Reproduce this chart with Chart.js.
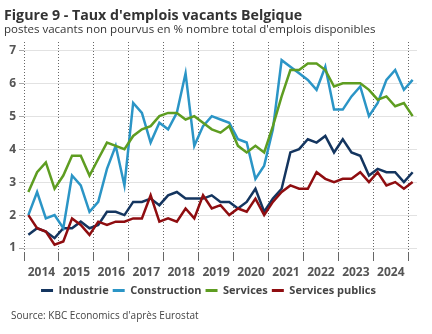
<!DOCTYPE html>
<html>
<head>
<meta charset="utf-8">
<script src="https://cdn.jsdelivr.net/npm/chart.js@4.4.1/dist/chart.umd.min.js"></script>
<style>
  html, body { margin: 0; padding: 0; background: #fff; }
  #wrap { position: relative; width: 432px; height: 334px; font-family: "Open Sans", sans-serif; color: #333; }
  #wrap canvas { position: absolute; left: 0; top: 0; }
  .txt { position: absolute; white-space: nowrap; }
  #title { left: 4px; top: 5px; font-size: 14.2px; font-weight: bold; }
  #subtitle { left: 4px; top: 21px; font-size: 11.5px; }
  #source { left: 11px; top: 308px; font-size: 10px; color: #444; }
</style>
</head>
<body>
<div id="wrap">
  <canvas id="vacancies" width="432" height="334"></canvas>
  <div class="txt" id="title">Figure 9 - Taux d'emplois vacants Belgique</div>
  <div class="txt" id="subtitle">postes vacants non pourvus en % nombre total d'emplois disponibles</div>
  <div class="txt" id="source">Source: KBC Economics d'après Eurostat</div>
</div>
<script>
  "use strict";

  var quarters = [
    "2014T1", "2014T2", "2014T3", "2014T4",
    "2015T1", "2015T2", "2015T3", "2015T4",
    "2016T1", "2016T2", "2016T3", "2016T4",
    "2017T1", "2017T2", "2017T3", "2017T4",
    "2018T1", "2018T2", "2018T3", "2018T4",
    "2019T1", "2019T2", "2019T3", "2019T4",
    "2020T1", "2020T2", "2020T3", "2020T4",
    "2021T1", "2021T2", "2021T3", "2021T4",
    "2022T1", "2022T2", "2022T3", "2022T4",
    "2023T1", "2023T2", "2023T3", "2023T4",
    "2024T1", "2024T2", "2024T3", "2024T4",
    "2025T1"
  ];

  var industrie = [
    1.4, 1.6, 1.5, 1.3, 1.6, 1.6, 1.8, 1.6, 1.7, 2.1, 2.1, 2.0,
    2.4, 2.4, 2.5, 2.3, 2.6, 2.7, 2.5, 2.5, 2.5, 2.6, 2.4, 2.4,
    2.2, 2.4, 2.8, 2.1, 2.5, 2.8, 3.9, 4.0, 4.3, 4.2, 4.4, 3.9,
    4.3, 3.9, 3.8, 3.2, 3.4, 3.3, 3.3, 3.0, 3.3
  ];
  var construction = [
    2.0, 2.7, 1.9, 2.0, 1.6, 3.2, 2.9, 2.1, 2.4, 3.4, 4.1, 2.9,
    5.4, 5.1, 4.2, 4.8, 4.6, 5.1, 6.3, 4.1, 4.7, 5.0, 4.9, 4.8,
    4.3, 4.2, 3.1, 3.5, 4.6, 6.7, 6.5, 6.3, 6.1, 5.8, 6.5, 5.2,
    5.2, 5.6, 5.9, 5.0, 5.4, 6.1, 6.4, 5.8, 6.1
  ];
  var services = [
    2.7, 3.3, 3.6, 2.8, 3.2, 3.8, 3.8, 3.2, 3.7, 4.2, 4.1, 4.0,
    4.4, 4.6, 4.7, 5.0, 5.1, 5.1, 4.9, 5.0, 4.8, 4.6, 4.5, 4.7,
    4.1, 3.9, 4.1, 3.9, 4.7, 5.6, 6.4, 6.4, 6.6, 6.6, 6.4, 5.9,
    6.0, 6.0, 6.0, 5.8, 5.5, 5.6, 5.3, 5.4, 5.0
  ];
  var servicesPublics = [
    2.0, 1.6, 1.5, 1.1, 1.2, 1.9, 1.7, 1.4, 1.8, 1.7, 1.8, 1.8,
    1.9, 1.9, 2.6, 1.8, 1.9, 1.8, 2.2, 1.9, 2.6, 2.2, 2.3, 2.0,
    2.2, 2.1, 2.5, 2.0, 2.4, 2.7, 2.9, 2.8, 2.8, 3.3, 3.1, 3.0,
    3.1, 3.1, 3.3, 3.0, 3.3, 2.9, 3.0, 2.8, 3.0
  ];

  var yTicks = [1, 2, 3, 4, 5, 6, 7];

  Chart.defaults.font.family = "'Open Sans', sans-serif";

  function serie(label, values, color, order) {
    return {
      label: label,
      data: values,
      borderColor: color,
      backgroundColor: color,
      borderWidth: 2.5,
      pointRadius: 0,
      tension: 0,
      order: order
    };
  }

  // one dotted line per year, on the boundary before each Q1
  function yearLine(ctx) {
    return ctx.index % 4 === 0 ? "#666" : "rgba(0,0,0,0)";
  }

  var ctx = document.getElementById("vacancies").getContext("2d");
  var chart = new Chart(ctx, {
    type: "line",
    data: {
      labels: quarters,
      datasets: [
        serie("Industrie", industrie, "#14355f", 4),
        serie("Construction", construction, "#2b95c6", 3),
        serie("Services", services, "#5e9d21", 2),
        serie("Services publics", servicesPublics, "#8f0d10", 1)
      ]
    },
    options: {
      responsive: false,
      animation: false,
      layout: { padding: { top: 42, right: 15, left: 0, bottom: 28 } },
      scales: {
        x: {
          type: "category",
          offset: true,
          grid: {
            offset: true,
            color: yearLine,
            tickColor: yearLine,
            lineWidth: 1,
            tickLength: 8
          },
          border: { display: false, dash: [1, 2] },
          ticks: {
            autoSkip: false,
            maxRotation: 0,
            padding: 4,
            labelOffset: 4.37,
            color: "#555",
            font: { size: 12, weight: "bold" },
            callback: function (value, index) {
              var q = quarters[index];
              return q.slice(4) === "T2" ? q.slice(0, 4) : "";
            }
          },
          afterFit: function (axis) { axis.height = 28; }
        },
        y: {
          min: 0.85,
          max: 7.25,
          grid: { color: "#e2e2e2", tickColor: "#aaa", tickLength: 5 },
          border: { display: false },
          ticks: {
            padding: 3,
            color: "#555",
            font: { size: 12, weight: "bold" }
          },
          afterBuildTicks: function (axis) {
            axis.ticks = yTicks.map(function (v) { return { value: v }; });
          },
          afterFit: function (axis) { axis.width = 24; }
        }
      },
      plugins: {
        legend: {
          position: "bottom",
          labels: {
            boxWidth: 12,
            boxHeight: 3,
            padding: 4,
            color: "#444",
            font: { size: 11, weight: "bold" },
            sort: function (a, b) { return a.datasetIndex - b.datasetIndex; },
            generateLabels: function (c) {
              var items = Chart.defaults.plugins.legend.labels.generateLabels(c);
              items.forEach(function (it) { it.lineWidth = 0; });
              return items;
            }
          }
        },
        tooltip: { enabled: false }
      }
    }
  });
</script>
</body>
</html>
